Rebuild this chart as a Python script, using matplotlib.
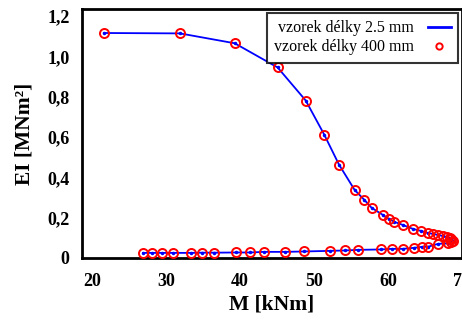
import matplotlib
matplotlib.use("Agg")
import matplotlib.pyplot as plt
from matplotlib.ticker import FuncFormatter

# Data: bending moment M [kNm] and stiffness EI [MNm^2]
M = [21.6, 31.9, 39.3, 45.1, 48.9, 51.4, 53.4, 55.5, 56.8, 57.8, 59.3, 60.1,
     60.9, 62.0, 63.4, 64.5, 65.4, 66.1, 66.8, 67.4, 68.0, 68.4, 68.6, 68.8,
     68.6, 68.2,
     66.8, 65.4, 64.6, 63.5, 62.0, 60.5, 59.1, 56.0, 54.2, 52.2, 48.6, 46.1,
     43.2, 41.4, 39.5, 36.5, 34.9, 33.4, 30.9, 29.5, 28.1, 26.9]
EI = [1.116, 1.114, 1.065, 0.945, 0.781, 0.612, 0.463, 0.338, 0.289, 0.249,
      0.214, 0.194, 0.179, 0.164, 0.144, 0.134, 0.124, 0.119, 0.114, 0.109,
      0.104, 0.099, 0.092, 0.085, 0.077, 0.072,
      0.070, 0.055, 0.055, 0.050, 0.045, 0.045, 0.042, 0.040, 0.037, 0.035,
      0.032, 0.030, 0.030, 0.027, 0.027, 0.026, 0.026, 0.025, 0.025, 0.025,
      0.025, 0.025]

x_ticks = [20, 30, 40, 50, 60, 70]
y_ticks = [0, 0.2, 0.4, 0.6, 0.8, 1.0, 1.2]
label_short = "vzorek délky 2.5 mm"
label_long = "vzorek délky 400 mm"
xlabel = "M [kNm]"
ylabel = "EI [MNm²]"

plt.rcParams['font.family'] = ['Liberation Serif', 'DejaVu Serif']

fig = plt.figure(figsize=(4.62, 3.22), dpi=100)
ax = fig.add_axes([0.1775, 0.199, 0.822, 0.773])

ax.plot(M, EI, color='#0000ff', lw=1.3, marker='.', markersize=3,
        label=label_short, zorder=2)
ax.plot(M, EI, linestyle='none', marker='o', markersize=6.5,
        markerfacecolor='none', markeredgecolor='#ff0000', markeredgewidth=1.4,
        label=label_long, zorder=3)

ax.set_xlim(18.65, 70.0)
ax.set_ylim(0, 1.235)
ax.set_xticks(x_ticks)
ax.set_yticks(y_ticks)

def yfmt(v, pos):
    if abs(v) < 1e-9:
        return "0"
    return f"{v:.1f}".replace('.', ',')

ax.yaxis.set_major_formatter(FuncFormatter(yfmt))
ax.tick_params(axis='both', length=0, labelsize=13)
ax.tick_params(axis='x', pad=11)
ax.tick_params(axis='y', pad=9)
for lab in ax.get_xticklabels() + ax.get_yticklabels():
    lab.set_fontweight('bold')

for s in ax.spines.values():
    s.set_linewidth(2)
    s.set_color('black')

ax.set_xlabel(xlabel, fontsize=15.5, fontweight='bold', labelpad=3)
ax.set_ylabel(ylabel, fontsize=15.5, fontweight='bold', labelpad=9)

leg = ax.legend(loc='upper right', fontsize=11.5, frameon=True, fancybox=False,
                markerfirst=False, handlelength=1.4, borderaxespad=0.25,
                borderpad=0.45, labelspacing=0.2, handletextpad=0.9,
                markerscale=0.7)
leg.get_frame().set_edgecolor('black')
leg.get_frame().set_linewidth(1.5)
h = leg.legend_handles
h[0].set_marker('')
h[0].set_linewidth(2)

fig.savefig("out.png", dpi=100)
